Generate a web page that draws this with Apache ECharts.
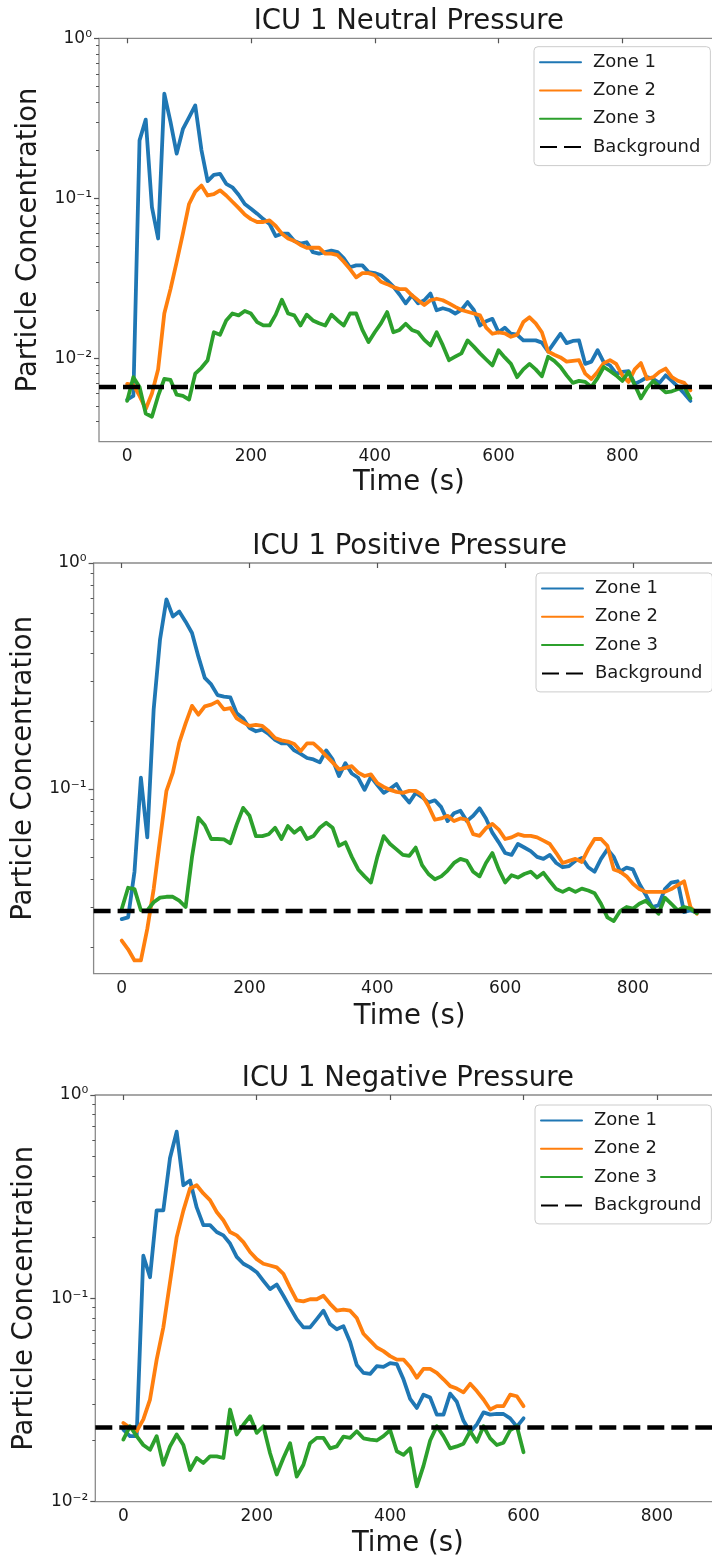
<!DOCTYPE html>
<html>
<head>
<meta charset="utf-8">
<script src="https://cdn.jsdelivr.net/npm/echarts@6/dist/echarts.min.js"></script>
<style>
html,body{margin:0;padding:0;background:#ffffff;}
#chart{width:712px;height:1559px;}
</style>
</head>
<body>
<div id="chart"></div>
<script>
// ---------------- data ----------------
const titles = ['ICU 1 Neutral Pressure', 'ICU 1 Positive Pressure', 'ICU 1 Negative Pressure'];
const seriesNames = ['Zone 1', 'Zone 2', 'Zone 3', 'Background'];
const xLabel = 'Time (s)';
const yLabel = 'Particle Concentration';
const xTicks = [0, 200, 400, 600, 800];
const yTickValues = [0.01, 0.1, 1];
const yTickLabels = ['10\u207B\u00B2', '10\u207B\u00B9', '10\u2070'];
const sampleStep = 10; // seconds between samples

// ICU 1 Neutral Pressure (t = 0 .. 910 s)
const neutralZone1 = [0.0055, 0.0058, 0.23, 0.31, 0.088, 0.056, 0.45, 0.30, 0.19, 0.27,
  0.32, 0.38, 0.20, 0.128, 0.14, 0.142, 0.123, 0.117, 0.105, 0.092,
  0.086, 0.080, 0.074, 0.069, 0.058, 0.060, 0.060, 0.054, 0.052, 0.053,
  0.046, 0.045, 0.046, 0.047, 0.046, 0.042, 0.037, 0.038, 0.038, 0.0345,
  0.034, 0.033, 0.0306, 0.028, 0.025, 0.022, 0.0247, 0.022, 0.023, 0.0253,
  0.0199, 0.0205, 0.020, 0.019, 0.020, 0.0224, 0.020, 0.016, 0.017, 0.0176,
  0.0145, 0.0155, 0.0142, 0.014, 0.0129, 0.0129, 0.0129, 0.0125, 0.0110, 0.0125,
  0.0142, 0.0124, 0.0128, 0.0129, 0.0092, 0.0095, 0.0112, 0.0094, 0.0090, 0.0080,
  0.0082, 0.0083, 0.0069, 0.0072, 0.0076, 0.0074, 0.0070, 0.0078, 0.0072, 0.0066,
  0.0060, 0.0054];
const neutralZone2 = [0.0069, 0.0068, 0.0058, 0.0048, 0.0060, 0.0085, 0.019, 0.027, 0.040, 0.060,
  0.092, 0.110, 0.120, 0.104, 0.106, 0.112, 0.104, 0.095, 0.087, 0.079,
  0.074, 0.071, 0.071, 0.0726, 0.067, 0.060, 0.056, 0.054, 0.051, 0.049,
  0.049, 0.049, 0.045, 0.045, 0.044, 0.040, 0.036, 0.032, 0.034, 0.034,
  0.033, 0.030, 0.029, 0.0278, 0.027, 0.027, 0.0247, 0.023, 0.0215, 0.023,
  0.0235, 0.023, 0.022, 0.0209, 0.020, 0.0195, 0.019, 0.0185, 0.0155, 0.0142,
  0.0145, 0.0143, 0.0136, 0.014, 0.0168, 0.018, 0.0165, 0.0145, 0.011, 0.0105,
  0.0101, 0.0095, 0.0096, 0.0097, 0.008, 0.0074, 0.0082, 0.0093, 0.0097, 0.0092,
  0.0078, 0.0071, 0.0085, 0.0093, 0.0074, 0.0076, 0.0082, 0.0086, 0.0076, 0.0072,
  0.0070, 0.0063];
const neutralZone3 = [0.0054, 0.0076, 0.0066, 0.0045, 0.0043, 0.0058, 0.0074, 0.0073, 0.0059, 0.0058,
  0.0055, 0.0080, 0.0087, 0.0097, 0.0145, 0.0140, 0.0172, 0.019, 0.0185, 0.0197,
  0.019, 0.0168, 0.016, 0.016, 0.0187, 0.0232, 0.019, 0.0185, 0.016, 0.0187,
  0.0172, 0.0165, 0.016, 0.0187, 0.0172, 0.016, 0.019, 0.019, 0.015, 0.0126,
  0.0145, 0.0165, 0.0194, 0.0145, 0.015, 0.0164, 0.015, 0.0145, 0.013, 0.012,
  0.0145, 0.012, 0.0097, 0.0102, 0.0107, 0.0129, 0.0118, 0.0107, 0.0098, 0.009,
  0.0112, 0.0101, 0.0092, 0.0076, 0.0085, 0.0092, 0.0085, 0.0077, 0.0102, 0.0096,
  0.0088, 0.0078, 0.0070, 0.0072, 0.0071, 0.0066, 0.0075, 0.0088, 0.0083, 0.0078,
  0.0072, 0.0082, 0.0068, 0.0056, 0.0065, 0.0072, 0.0066, 0.0061, 0.0062, 0.0064,
  0.0066, 0.0056];

// ICU 1 Positive Pressure (t = 0 .. 900 s)
const positiveZone1 = [0.0265, 0.027, 0.043, 0.112, 0.061, 0.225, 0.46, 0.69, 0.58, 0.61,
  0.55, 0.49, 0.385, 0.31, 0.29, 0.26, 0.256, 0.254, 0.216, 0.205,
  0.186, 0.18, 0.183, 0.175, 0.165, 0.159, 0.159, 0.148, 0.143, 0.137,
  0.135, 0.131, 0.148, 0.135, 0.114, 0.130, 0.117, 0.112, 0.099, 0.113,
  0.104, 0.096, 0.100, 0.105, 0.094, 0.087, 0.096, 0.092, 0.087, 0.089,
  0.083, 0.072, 0.078, 0.080, 0.072, 0.076, 0.082, 0.074, 0.064, 0.058,
  0.052, 0.051, 0.057, 0.055, 0.053, 0.050, 0.049, 0.051, 0.047, 0.045,
  0.0455, 0.048, 0.0495, 0.045, 0.043, 0.049, 0.054, 0.050, 0.043, 0.0448,
  0.044, 0.038, 0.034, 0.030, 0.0305, 0.036, 0.0385, 0.039, 0.0285, 0.029,
  0.0284];
const positiveZone2 = [0.0213, 0.0195, 0.0174, 0.0174, 0.024, 0.036, 0.060, 0.098, 0.118, 0.16,
  0.195, 0.233, 0.213, 0.232, 0.236, 0.244, 0.225, 0.228, 0.205, 0.197,
  0.19, 0.192, 0.19, 0.18, 0.168, 0.164, 0.162, 0.158, 0.147, 0.159,
  0.159, 0.150, 0.140, 0.131, 0.122, 0.124, 0.126, 0.118, 0.114, 0.116,
  0.106, 0.102, 0.099, 0.097, 0.096, 0.098, 0.098, 0.094, 0.084, 0.073,
  0.074, 0.076, 0.072, 0.074, 0.073, 0.063, 0.062, 0.067, 0.070, 0.066,
  0.060, 0.061, 0.063, 0.062, 0.062, 0.061, 0.059, 0.057, 0.052, 0.047,
  0.048, 0.049, 0.0475, 0.054, 0.060, 0.060, 0.056, 0.044, 0.043, 0.041,
  0.038, 0.036, 0.035, 0.035, 0.035, 0.035, 0.036, 0.0375, 0.039, 0.030,
  0.028];
const positiveZone3 = [0.0294, 0.0365, 0.0360, 0.029, 0.029, 0.0315, 0.033, 0.0333, 0.0333, 0.032,
  0.030, 0.050, 0.0745, 0.069, 0.060, 0.060, 0.0598, 0.0574, 0.0696, 0.0824,
  0.076, 0.0618, 0.0618, 0.063, 0.0673, 0.060, 0.0685, 0.064, 0.0673, 0.060,
  0.0618, 0.0673, 0.0708, 0.0673, 0.056, 0.058, 0.050, 0.044, 0.041, 0.0385,
  0.050, 0.0618, 0.057, 0.054, 0.051, 0.0505, 0.055, 0.046, 0.042, 0.0398,
  0.041, 0.0435, 0.047, 0.049, 0.048, 0.043, 0.041, 0.047, 0.052, 0.044,
  0.0385, 0.0415, 0.0405, 0.042, 0.043, 0.0405, 0.0425, 0.039, 0.036, 0.035,
  0.0362, 0.035, 0.0362, 0.0355, 0.0345, 0.031, 0.027, 0.026, 0.0288, 0.030,
  0.0295, 0.031, 0.032, 0.030, 0.028, 0.033, 0.031, 0.029, 0.030, 0.0295,
  0.0282];

// ICU 1 Negative Pressure (t = 0 .. 600 s)
const negativeZone1 = [0.0226, 0.021, 0.021, 0.162, 0.127, 0.271, 0.271, 0.49, 0.66, 0.36,
  0.38, 0.28, 0.229, 0.229, 0.212, 0.204, 0.186, 0.16, 0.148, 0.142,
  0.1345, 0.122, 0.111, 0.117, 0.103, 0.090, 0.079, 0.072, 0.072, 0.079,
  0.087, 0.0747, 0.0705, 0.073, 0.061, 0.047, 0.043, 0.0425, 0.0464, 0.046,
  0.048, 0.0475, 0.040, 0.032, 0.0289, 0.0336, 0.0325, 0.0268, 0.0268, 0.034,
  0.031, 0.025, 0.022, 0.024, 0.0275, 0.0268, 0.027, 0.027, 0.0257, 0.0234,
  0.0257];
const negativeZone2 = [0.0244, 0.0231, 0.0222, 0.0254, 0.0318, 0.050, 0.072, 0.12, 0.20, 0.27,
  0.347, 0.36, 0.328, 0.304, 0.266, 0.242, 0.212, 0.204, 0.189, 0.169,
  0.156, 0.148, 0.145, 0.142, 0.132, 0.113, 0.0977, 0.0966, 0.099, 0.099,
  0.103, 0.094, 0.087, 0.088, 0.087, 0.080, 0.067, 0.062, 0.0573, 0.055,
  0.052, 0.050, 0.050, 0.046, 0.0407, 0.045, 0.045, 0.043, 0.040, 0.037,
  0.036, 0.0345, 0.038, 0.035, 0.0318, 0.0284, 0.0295, 0.0295, 0.0336, 0.033,
  0.0295];
const negativeZone3 = [0.0202, 0.0235, 0.021, 0.019, 0.018, 0.021, 0.0152, 0.0187, 0.0214, 0.019,
  0.0143, 0.0164, 0.0155, 0.0167, 0.0167, 0.0164, 0.0284, 0.0214, 0.0239, 0.0263,
  0.0218, 0.0235, 0.0173, 0.0136, 0.0164, 0.0194, 0.0133, 0.0152, 0.0194, 0.0206,
  0.0206, 0.0183, 0.0187, 0.0209, 0.0206, 0.0222, 0.0205, 0.0202, 0.0200, 0.021,
  0.0225, 0.0177, 0.017, 0.0183, 0.0119, 0.015, 0.020, 0.0235, 0.021, 0.0183,
  0.0187, 0.0193, 0.0222, 0.0197, 0.0235, 0.0205, 0.019, 0.0195, 0.0225, 0.0235,
  0.0175];

const backgroundLevel = [0.0066, 0.0288, 0.0232];
const zoneData = [
  [neutralZone1, neutralZone2, neutralZone3],
  [positiveZone1, positiveZone2, positiveZone3],
  [negativeZone1, negativeZone2, negativeZone3]
];

// ---------------- layout / style ----------------
const FONT = "'DejaVu Sans', 'Noto Sans', sans-serif";
const colors = ['#1f77b4', '#ff7f0e', '#2ca02c', '#000000'];
const spineColor = '#8a8a8a';
const textColor = '#1a1a1a';
const layout = [
  {left: 99, top: 38.3, width: 619.6, height: 403.4, xMin: -45.5, xMax: 955.5, yMin: 0.003, titleY: 21.5, xNameGap: 27, legendLeft: 534, legendTop: 46.7},
  {left: 93.6, top: 563, width: 632, height: 410.7, xMin: -44, xMax: 945, yMin: 0.0152, titleY: 547, xNameGap: 29, legendLeft: 536, legendTop: 573},
  {left: 95.3, top: 1095, width: 625, height: 406.7, xMin: -42, xMax: 895, yMin: 0.01, titleY: 1079, xNameGap: 28, legendLeft: 535, legendTop: 1105}
];

function sampleTimes(n) { return Array.from({length: n}, (_, i) => i * sampleStep); }
function minorTicks(yMin, yMax) {
  const out = [];
  for (let k = -4; k < 0; k++) {
    for (let m = 2; m <= 9; m++) {
      const v = m * Math.pow(10, k);
      if (v > yMin && v < yMax) out.push(Math.log10(v));
    }
  }
  return out;
}

const grids = [], xAxes = [], yAxes = [], series = [], legends = [], graphics = [];

layout.forEach((L, i) => {
  const yMinLog = Math.log10(L.yMin);
  grids.push({
    left: L.left, top: L.top, width: L.width, height: L.height,
    show: true, borderColor: spineColor, borderWidth: 1.3, backgroundColor: 'transparent',
    containLabel: false, outerBoundsMode: 'none'
  });
  xAxes.push({
    type: 'value', gridIndex: i, min: L.xMin, max: L.xMax,
    axisLine: {show: false},
    axisTick: {show: true, customValues: xTicks, length: 5, lineStyle: {color: '#555', width: 1.2}},
    axisLabel: {show: true, customValues: xTicks, fontSize: 17, fontFamily: FONT, color: textColor, margin: 6},
    splitLine: {show: false},
    name: xLabel, nameLocation: 'middle', nameGap: L.xNameGap,
    nameTextStyle: {fontSize: 27.5, fontFamily: FONT, color: textColor}
  });
  // data axis (log scale) - hidden, used by series
  yAxes.push({
    type: 'log', logBase: 10, gridIndex: i, min: L.yMin, max: 1, show: false,
    splitLine: {show: false}
  });
  // labelled decade axis (same scale expressed in log10 units)
  const majors = yTickValues.map(v => Math.log10(v));
  yAxes.push({
    type: 'value', gridIndex: i, min: yMinLog, max: 0, position: 'left',
    axisLine: {show: false},
    axisTick: {show: true, customValues: majors, length: 5, lineStyle: {color: '#555', width: 1.2}},
    axisLabel: {
      show: true, customValues: majors, fontSize: 17, fontFamily: FONT, color: textColor, margin: 7,
      formatter: function (val) {
        for (let k = 0; k < yTickValues.length; k++) {
          if (Math.abs(Math.log10(yTickValues[k]) - val) < 1e-6) return yTickLabels[k];
        }
        return '';
      }
    },
    splitLine: {show: false},
    name: yLabel, nameLocation: 'middle', nameGap: 56, nameRotate: 90, nameMoveOverlap: false,
    nameTextStyle: {fontSize: 27.5, fontFamily: FONT, color: textColor}
  });
  // minor ticks axis
  yAxes.push({
    type: 'value', gridIndex: i, min: yMinLog, max: 0, position: 'left',
    axisLine: {show: false},
    axisTick: {show: true, customValues: minorTicks(L.yMin, 1), length: 3, lineStyle: {color: '#555', width: 1}},
    axisLabel: {show: false},
    splitLine: {show: false}
  });

  const zones = zoneData[i];
  const t = sampleTimes(zones[0].length);
  zones.forEach((vals, j) => {
    series.push({
      type: 'line', name: seriesNames[j], xAxisIndex: i, yAxisIndex: 3 * i,
      data: t.map((tt, k) => [tt, vals[k]]),
      symbol: 'none', showSymbol: false, silent: true, clip: true,
      lineStyle: {color: colors[j], width: 3.8, join: 'round', cap: 'round'},
      itemStyle: {color: colors[j]},
      emphasis: {disabled: true}, z: 2 + j
    });
  });
  // horizontal background level spanning the full axis range
  series.push({
    type: 'line', name: seriesNames[3], xAxisIndex: i, yAxisIndex: 3 * i,
    data: [[L.xMin, backgroundLevel[i]], [L.xMax, backgroundLevel[i]]],
    symbol: 'none', showSymbol: false, silent: true, clip: true,
    lineStyle: {color: '#000', width: 4.5, type: [17, 7]},
    itemStyle: {color: '#000'},
    emphasis: {disabled: true},
    z: 6
  });

  legends.push({
    data: seriesNames, orient: 'vertical', left: L.legendLeft, top: L.legendTop,
    itemWidth: 41, itemHeight: 14, itemGap: 8.3,
    padding: [5.5, 10, 8.5, 5],
    backgroundColor: 'rgba(255,255,255,0.85)', borderColor: '#cccccc', borderWidth: 1, borderRadius: 4,
    selectedMode: false,
    itemStyle: {opacity: 0},
    textStyle: {fontSize: 18, fontFamily: FONT, color: textColor, lineHeight: 20, padding: [0, 0, 0, 7]}
  });

  graphics.push({
    type: 'text', x: L.left + L.width / 2, y: L.titleY, silent: true,
    style: {text: titles[i], fontSize: 27.5, fontFamily: FONT, fill: textColor,
      textAlign: 'center', align: 'center', textVerticalAlign: 'middle', verticalAlign: 'middle'}
  });
});

const chart = echarts.init(document.getElementById('chart'), null, {renderer: 'canvas', width: 712, height: 1559});
chart.setOption({
  animation: false,
  backgroundColor: '#ffffff',
  grid: grids,
  xAxis: xAxes,
  yAxis: yAxes,
  legend: legends,
  graphic: graphics,
  series: series
});
</script>
</body>
</html>
